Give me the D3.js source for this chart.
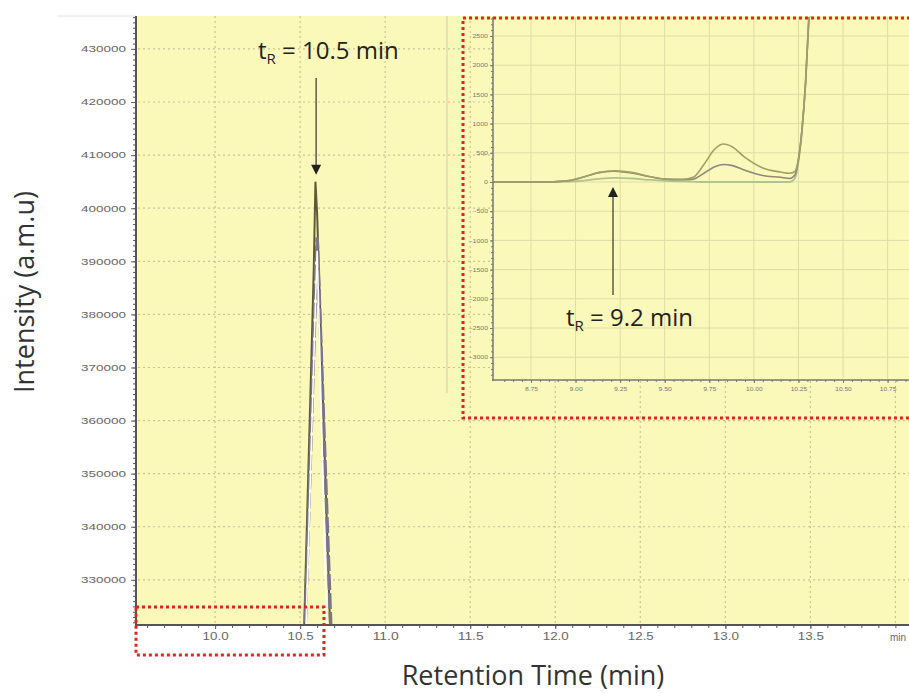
<!DOCTYPE html>
<html>
<head>
<meta charset="utf-8">
<script src="https://cdn.jsdelivr.net/npm/d3@7"></script>
<style>
  body { margin: 0; background: #fff; }
  svg { display: block; }
</style>
</head>
<body>
<div id="plot-container"></div>
<script>
// main chromatogram, retention time in min
var mainTime = [10.30, 10.48, 10.52, 10.54, 10.56, 10.58, 10.59, 10.60, 10.61, 10.62, 10.64, 10.66, 10.68, 10.72, 10.90];
var mainSample1 = [0, 250000, 316700, 340600, 364400, 388300, 405000, 399000, 388700, 378500, 358200, 337800, 317400, 250000, 0];
var mainSample2 = [0, 260000, 311000, 331900, 352700, 373600, 384000, 394500, 385400, 376250, 358000, 339750, 321500, 285000, 0];
var mainSample3 = [0, 245000, 305000, 327000, 349000, 371000, 382000, 392000, 380000, 367000, 341000, 315000, 289000, 237000, 0];
var mainXTicks = [10.0, 10.5, 11.0, 11.5, 12.0, 12.5, 13.0, 13.5];
var mainYTicks = [330000, 340000, 350000, 360000, 370000, 380000, 390000, 400000, 410000, 420000, 430000];

// zoomed inset, baseline region
var insetTime = [8.54, 8.80, 8.95, 9.05, 9.13, 9.22, 9.32, 9.42, 9.50, 9.60, 9.66, 9.72, 9.78, 9.83, 9.88, 9.95, 10.05, 10.15, 10.20, 10.23, 10.25, 10.27, 10.29, 10.31, 10.34];
var insetSample1 = [0, 0, 20, 90, 160, 190, 160, 90, 50, 45, 80, 300, 560, 650, 600, 420, 240, 170, 150, 180, 400, 900, 1700, 2900, 4000];
var insetSample2 = [0, 0, 20, 90, 160, 185, 150, 90, 50, 40, 50, 150, 260, 300, 280, 200, 110, 80, 60, 120, 380, 900, 1700, 2900, 4000];
var insetSample3 = [0, 0, 5, 25, 55, 70, 60, 35, 20, 10, 5, 0, 0, 0, 0, 0, 0, 0, 0, 60, 350, 880, 1700, 2900, 4000];
var insetXTicks = [8.75, 9.00, 9.25, 9.50, 9.75, 10.00, 10.25, 10.50, 10.75];
var insetYTicks = [-3000, -2500, -2000, -1500, -1000, -500, 0, 500, 1000, 1500, 2000, 2500];

var W = 909, H = 693;
var bg = "#fbf9b9";

var svg = d3.select("#plot-container").append("svg")
    .attr("width", W)
    .attr("height", H)
    .style("font-family", "'Open Sans', sans-serif");

var xMain = d3.scaleLinear().domain([9.535, 14.08]).range([136, 909]);
var yMain = d3.scaleLinear().domain([321500, 436200]).range([625, 16]);
var xIn = d3.scaleLinear().domain([8.537, 10.87]).range([493, 909]);
var yIn = d3.scaleLinear().domain([-3390, 2825]).range([380, 17]);

var defs = svg.append("defs");
defs.append("clipPath").attr("id", "clip-main").append("rect")
    .attr("x", 136).attr("y", 16).attr("width", W - 136).attr("height", 609);
defs.append("clipPath").attr("id", "clip-inset").append("rect")
    .attr("x", 493).attr("y", 17).attr("width", W - 493).attr("height", 363);

// main background + grid
svg.append("line").attr("x1", 57).attr("x2", 136).attr("y1", 16).attr("y2", 16)
    .attr("stroke", "#e2e2e2");
svg.append("rect").attr("x", 136).attr("y", 16).attr("width", W - 136).attr("height", 609)
    .attr("fill", bg);

var grid = svg.append("g").attr("stroke", "#c6c497").attr("stroke-width", 1.2).attr("stroke-dasharray", "2,3");
grid.selectAll("line.h").data(mainYTicks).enter().append("line")
    .attr("class", "h")
    .attr("x1", 138).attr("x2", W)
    .attr("y1", function (d) { return yMain(d); })
    .attr("y2", function (d) { return yMain(d); });
grid.selectAll("line.v").data(mainXTicks.concat([14.0])).enter().append("line")
    .attr("class", "v")
    .attr("x1", function (d) { return xMain(d); })
    .attr("x2", function (d) { return xMain(d); })
    .attr("y1", 16).attr("y2", 623);

svg.append("line").attr("x1", 447).attr("x2", 447).attr("y1", 16).attr("y2", 393)
    .attr("stroke", "#cfcda8").attr("stroke-width", 1);

// main traces
var mainLine = function (vals) {
    return d3.line()
        .x(function (d, i) { return xMain(mainTime[i]); })
        .y(function (d) { return yMain(d); })(vals);
};
var traces = svg.append("g").attr("clip-path", "url(#clip-main)").attr("fill", "none");
traces.append("path").attr("d", mainLine(mainSample1))
    .attr("stroke", "#5d5a3c").attr("stroke-width", 2);
traces.append("path").attr("d", mainLine(mainSample2))
    .attr("stroke", "#7e7488").attr("stroke-width", 3.5).attr("stroke-dasharray", "16,3");
traces.append("path").attr("d", mainLine(mainSample3))
    .attr("stroke", "#ffffff").attr("stroke-width", 1.6);

// main axes
var styleTicks = function (g, color, fontSize, perChar) {
    g.select(".domain").remove();
    g.selectAll(".tick line").attr("stroke", color);
    g.selectAll(".tick text")
        .attr("fill", color)
        .style("font-family", "'Liberation Sans', Arial, sans-serif")
        .style("font-size", fontSize + "px")
        .attr("textLength", function () { return this.textContent.length * perChar; })
        .attr("lengthAdjust", "spacingAndGlyphs");
};

var yMinor = d3.range(322000, 436001, 1000);
svg.append("g").attr("transform", "translate(136,0)")
    .call(d3.axisLeft(yMain).tickValues(yMinor).tickSize(3).tickFormat(""))
    .call(function (g) { styleTicks(g, "#555", 9, 7.5); });
svg.append("g").attr("transform", "translate(136,0)")
    .call(d3.axisLeft(yMain).tickValues(mainYTicks).tickSize(5).tickPadding(5).tickFormat(d3.format("d")))
    .call(function (g) { styleTicks(g, "#666", 9, 7.5); });
svg.append("line").attr("x1", 136).attr("x2", 136).attr("y1", 16).attr("y2", 626)
    .attr("stroke", "#555").attr("stroke-width", 2);

var xMinor = d3.range(96, 141).map(function (d) { return d / 10; });
svg.append("g").attr("transform", "translate(0,625)")
    .call(d3.axisBottom(xMain).tickValues(xMinor).tickSize(3).tickFormat(""))
    .call(function (g) { styleTicks(g, "#555", 10, 6.5); });
svg.append("g").attr("transform", "translate(0,625)")
    .call(d3.axisBottom(xMain).tickValues(mainXTicks).tickSize(4).tickPadding(4).tickFormat(d3.format(".1f")))
    .call(function (g) { styleTicks(g, "#666", 10, 6.5); });
svg.append("text").attr("x", 890).attr("y", 641)
    .attr("fill", "#666")
    .style("font-family", "'Liberation Sans', Arial, sans-serif").style("font-size", "10px")
    .text("min");
svg.append("line").attr("x1", 135).attr("x2", W).attr("y1", 625).attr("y2", 625)
    .attr("stroke", "#555").attr("stroke-width", 2);

// axis titles
svg.append("text").attr("x", 533).attr("y", 685).attr("text-anchor", "middle")
    .attr("fill", "#333").style("font-size", "27px")
    .text("Retention Time (min)");
svg.append("text").attr("transform", "translate(34,292) rotate(-90)").attr("text-anchor", "middle")
    .attr("fill", "#333").style("font-size", "27px")
    .text("Intensity (a.m.u)");

// main annotation
var tip = yMain(406300), ax = xMain(10.594);
svg.append("line").attr("x1", ax).attr("x2", ax).attr("y1", 78).attr("y2", tip - 8)
    .attr("stroke", "#333").attr("stroke-width", 1.2);
svg.append("path").attr("d", "M" + (ax - 5) + "," + (tip - 10) + "L" + (ax + 5) + "," + (tip - 10) + "L" + ax + "," + tip + "Z")
    .attr("fill", "#222");
var t1 = svg.append("text").attr("x", 258).attr("y", 59).attr("fill", "#222").style("font-size", "24px");
t1.append("tspan").text("t");
t1.append("tspan").attr("dy", 5).style("font-size", "15px").text("R");
t1.append("tspan").attr("dy", -5).text(" = 10.5 min");

// inset
svg.append("rect").attr("x", 493).attr("y", 17).attr("width", W - 493).attr("height", 363)
    .attr("fill", bg);
var igrid = svg.append("g").attr("stroke", "#dedba6").attr("stroke-width", 1);
igrid.selectAll("line.h").data(insetYTicks).enter().append("line")
    .attr("x1", 494).attr("x2", W)
    .attr("y1", function (d) { return yIn(d); })
    .attr("y2", function (d) { return yIn(d); });
igrid.selectAll("line.v").data(insetXTicks).enter().append("line")
    .attr("x1", function (d) { return xIn(d); })
    .attr("x2", function (d) { return xIn(d); })
    .attr("y1", 17).attr("y2", 379);

var insetLine = function (vals) {
    return d3.line()
        .curve(d3.curveMonotoneX)
        .x(function (d, i) { return xIn(insetTime[i]); })
        .y(function (d) { return yIn(d); })(vals);
};
var itr = svg.append("g").attr("clip-path", "url(#clip-inset)").attr("fill", "none");
itr.append("path").attr("d", insetLine(insetSample3))
    .attr("stroke", "#b3c38c").attr("stroke-width", 1.8);
itr.append("path").attr("d", insetLine(insetSample2))
    .attr("stroke", "#8b897c").attr("stroke-width", 1.6);
itr.append("path").attr("d", insetLine(insetSample1))
    .attr("stroke", "#a29e68").attr("stroke-width", 1.6);

var iyMinor = d3.range(-3300, 2801, 100);
svg.append("g").attr("transform", "translate(493,0)")
    .call(d3.axisLeft(yIn).tickValues(iyMinor).tickSize(2).tickFormat(""))
    .call(function (g) { styleTicks(g, "#777", 5, 3.9); });
svg.append("g").attr("transform", "translate(493,0)")
    .call(d3.axisLeft(yIn).tickValues(insetYTicks).tickSize(3).tickPadding(2).tickFormat(d3.format("d")))
    .call(function (g) { styleTicks(g, "#777", 5.5, 3.9); });
svg.append("line").attr("x1", 493).attr("x2", 493).attr("y1", 17).attr("y2", 381)
    .attr("stroke", "#777").attr("stroke-width", 1.5);

var ixMinor = d3.range(172, 218).map(function (d) { return d / 20; });
svg.append("g").attr("transform", "translate(0,380)")
    .call(d3.axisBottom(xIn).tickValues(ixMinor).tickSize(2).tickFormat(""))
    .call(function (g) { styleTicks(g, "#777", 5.5, 3.3); });
svg.append("g").attr("transform", "translate(0,380)")
    .call(d3.axisBottom(xIn).tickValues(insetXTicks).tickSize(3).tickPadding(4).tickFormat(d3.format(".2f")))
    .call(function (g) { styleTicks(g, "#777", 5.5, 3.3); });
svg.append("line").attr("x1", 492).attr("x2", W).attr("y1", 380).attr("y2", 380)
    .attr("stroke", "#777").attr("stroke-width", 1.5);

// inset annotation
var ix = xIn(9.21), itip = yIn(-85);
svg.append("line").attr("x1", ix).attr("x2", ix).attr("y1", 295).attr("y2", itip + 8)
    .attr("stroke", "#333").attr("stroke-width", 1.2);
svg.append("path").attr("d", "M" + (ix - 5) + "," + (itip + 10) + "L" + (ix + 5) + "," + (itip + 10) + "L" + ix + "," + itip + "Z")
    .attr("fill", "#222");
var t2 = svg.append("text").attr("x", 566).attr("y", 326).attr("fill", "#222").style("font-size", "24px");
t2.append("tspan").text("t");
t2.append("tspan").attr("dy", 5).style("font-size", "15px").text("R");
t2.append("tspan").attr("dy", -5).text(" = 9.2 min");

// red dotted zoom boxes
var red = "#e0241f";
svg.append("rect").attr("x", 463).attr("y", 18).attr("width", 470).attr("height", 400)
    .attr("fill", "none").attr("stroke", red).attr("stroke-width", 3).attr("stroke-dasharray", "3,3");
svg.append("rect").attr("x", 136).attr("y", 607).attr("width", xMain(10.64) - 136).attr("height", 48)
    .attr("fill", "none").attr("stroke", red).attr("stroke-width", 3).attr("stroke-dasharray", "3,3");
</script>
</body>
</html>
